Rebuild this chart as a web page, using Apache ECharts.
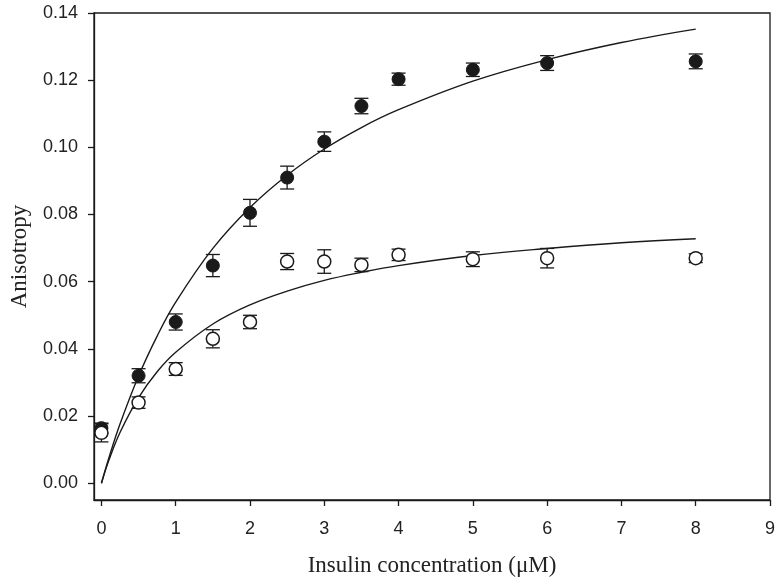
<!DOCTYPE html>
<html>
<head>
<meta charset="utf-8">
<script src="https://cdn.jsdelivr.net/npm/echarts@6/dist/echarts.min.js"></script>
<style>html,body{margin:0;padding:0;background:#fff;}#chart{width:782px;height:587px;}</style>
</head>
<body>
<div id="chart"></div>
<script>
// Data
const concX = [0, 0.5, 1, 1.5, 2, 2.5, 3, 3.5, 4, 5, 6, 8];
const filledY = [0.0164, 0.032, 0.048, 0.0648, 0.0805, 0.091, 0.1017, 0.1123, 0.1203, 0.1231, 0.1251, 0.1256];
const filledErr = [0.0015, 0.0021, 0.0024, 0.0033, 0.004, 0.0034, 0.0029, 0.0023, 0.0018, 0.002, 0.0022, 0.0022];
const openY = [0.015, 0.024, 0.034, 0.043, 0.048, 0.066, 0.066, 0.065, 0.068, 0.0667, 0.067, 0.067];
const openErr = [0.0027, 0.0017, 0.0019, 0.0027, 0.002, 0.0024, 0.0035, 0.002, 0.0017, 0.0022, 0.0029, 0.0013];

const fitX = [0, 0.1, 0.25, 0.5, 0.75, 1, 1.5, 2, 2.5, 3, 3.5, 4, 5, 6, 7, 8];
const filledFit = [0, 0.0075, 0.0176, 0.0319, 0.0438, 0.0539, 0.0699, 0.0821, 0.0917, 0.0995, 0.1059, 0.1112, 0.1197, 0.1261, 0.1312, 0.1352];
const openFit = [0, 0.0068, 0.0151, 0.0255, 0.0332, 0.0390, 0.0474, 0.0531, 0.0572, 0.0604, 0.0628, 0.0648, 0.0678, 0.0699, 0.0716, 0.0728];

const xTicks = [0, 1, 2, 3, 4, 5, 6, 7, 8, 9];
const yTicks = [0, 0.02, 0.04, 0.06, 0.08, 0.10, 0.12, 0.14];

const INK = '#1a1a1a';

function pairs(xs, ys) { return xs.map((x, i) => [x, ys[i]]); }
function errData(xs, ys, es) { return xs.map((x, i) => [x, ys[i] - es[i], ys[i] + es[i]]); }

function renderErr(params, api) {
  const x = api.value(0);
  const lo = api.coord([x, api.value(1)]);
  const hi = api.coord([x, api.value(2)]);
  const w = 7;
  const style = { stroke: INK, lineWidth: 1.3, fill: null };
  return {
    type: 'group',
    children: [
      { type: 'line', shape: { x1: lo[0], y1: lo[1], x2: hi[0], y2: hi[1] }, style: style },
      { type: 'line', shape: { x1: lo[0] - w, y1: lo[1], x2: lo[0] + w, y2: lo[1] }, style: style },
      { type: 'line', shape: { x1: hi[0] - w, y1: hi[1], x2: hi[0] + w, y2: hi[1] }, style: style }
    ]
  };
}

const chart = echarts.init(document.getElementById('chart'), null, { renderer: 'canvas' });
chart.setOption({
  backgroundColor: '#fff',
  animation: false,
  grid: { left: 93, right: 12, top: 13, bottom: 87, show: true, borderColor: INK, borderWidth: 1.3, backgroundColor: 'transparent' },
  xAxis: {
    type: 'value', min: -0.1, max: 9,
    name: 'Insulin concentration (\u03bcM)', nameLocation: 'middle', nameGap: 54,
    nameTextStyle: { fontFamily: 'Liberation Serif', fontSize: 23, color: '#222' },
    axisLine: { show: true, onZero: false, lineStyle: { color: INK, width: 1.3 } },
    axisTick: { show: true, length: 6, customValues: xTicks, lineStyle: { color: INK, width: 1.3 } },
    axisLabel: { customValues: xTicks, margin: 20, fontFamily: 'Liberation Sans', fontSize: 18, color: '#222' },
    splitLine: { show: false }
  },
  yAxis: {
    type: 'value', min: -0.005, max: 0.14,
    name: 'Anisotropy', nameLocation: 'middle', nameGap: 63,
    nameTextStyle: { fontFamily: 'Liberation Serif', fontSize: 23, color: '#222' },
    axisLine: { show: true, onZero: false, lineStyle: { color: INK, width: 1.3 } },
    axisTick: { show: true, length: 6, customValues: yTicks, lineStyle: { color: INK, width: 1.3 } },
    axisLabel: { customValues: yTicks, margin: 16, fontFamily: 'Liberation Sans', fontSize: 18, color: '#222',
      formatter: v => v.toFixed(2) },
    splitLine: { show: false }
  },
  series: [
    { type: 'line', data: pairs(fitX, filledFit), smooth: 0.4, showSymbol: false, lineStyle: { color: INK, width: 1.4 }, z: 2 },
    { type: 'line', data: pairs(fitX, openFit), smooth: 0.4, showSymbol: false, lineStyle: { color: INK, width: 1.4 }, z: 2 },
    { type: 'custom', data: errData(concX, filledY, filledErr), renderItem: renderErr, z: 3 },
    { type: 'custom', data: errData(concX, openY, openErr), renderItem: renderErr, z: 3 },
    { type: 'scatter', data: pairs(concX, filledY), symbol: 'circle', symbolSize: 13,
      itemStyle: { color: INK, borderColor: INK, borderWidth: 1, opacity: 1 }, z: 4 },
    { type: 'scatter', data: pairs(concX, openY), symbol: 'circle', symbolSize: 13,
      itemStyle: { color: '#fff', borderColor: INK, borderWidth: 1.5, opacity: 1 }, z: 4 }
  ]
});
</script>
</body>
</html>
